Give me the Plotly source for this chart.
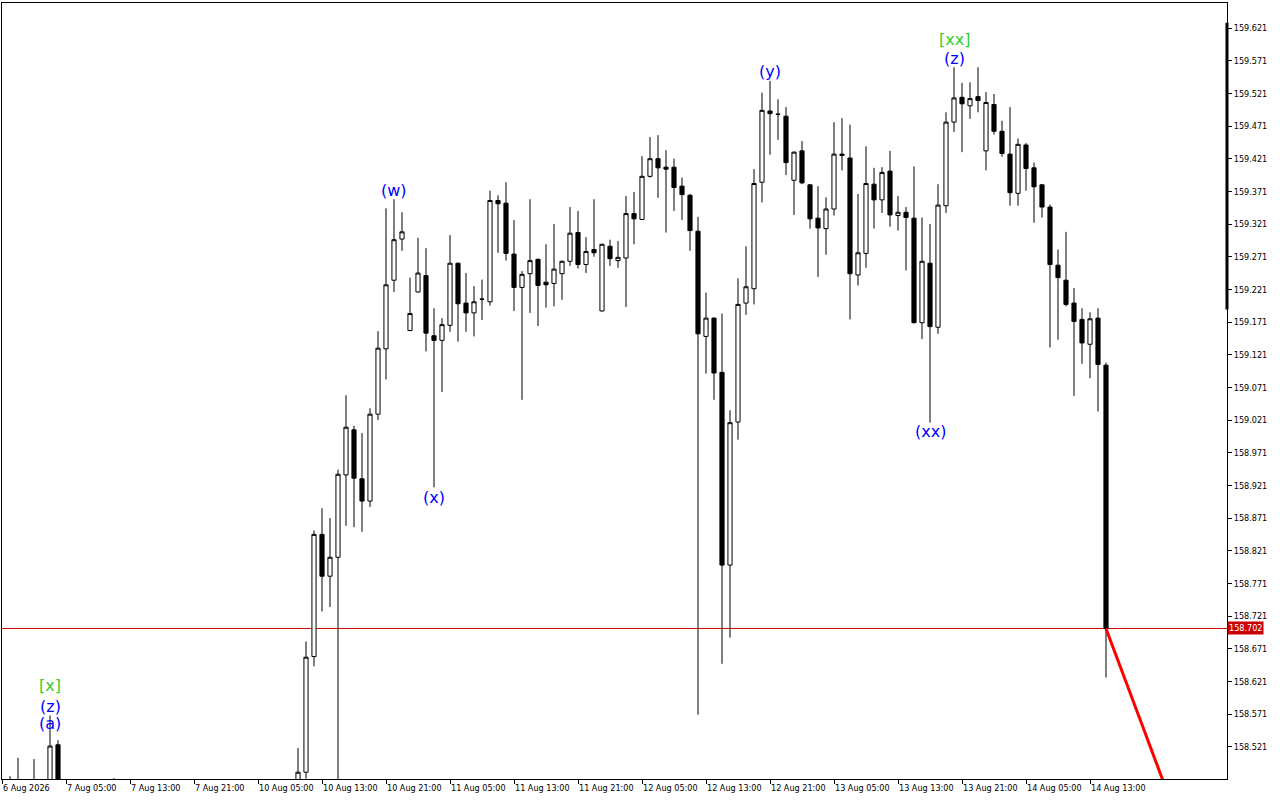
import plotly.graph_objects as go

# ---- data (H1 bars, index = bar number, 6 Aug 21:00 = 0) ----
bar_index = list(range(139))

opens = [
    158.455, 158.460, 158.465, 158.458, 158.450, 158.462, 158.455, 158.524, 158.445, 158.440,
    158.432, 158.438, 158.430, 158.436, 158.442, 158.450, 158.444, 158.438, 158.430, 158.425,
    158.432, 158.428, 158.420, 158.426, 158.430, 158.424, 158.418, 158.422, 158.428, 158.432,
    158.426, 158.420, 158.415, 158.422, 158.430, 158.438, 158.445, 158.458, 158.482, 158.659,
    158.846, 158.782, 158.811, 158.937, 159.006, 158.931, 158.897, 159.030, 159.130, 159.235,
    159.298, 159.158, 159.217, 159.242, 159.150, 159.143, 159.166, 159.261, 159.200, 159.185,
    159.206, 159.202, 159.357, 159.353, 159.275, 159.224, 159.245, 159.267, 159.232, 159.230,
    159.245, 159.264, 159.308, 159.259, 159.282, 159.188, 159.287, 159.265, 159.269, 159.337,
    159.328, 159.394, 159.421, 159.408, 159.408, 159.379, 159.365, 159.310, 159.149, 159.177,
    159.094, 158.799, 159.018, 159.200, 159.222, 159.385, 159.494, 159.489, 159.486, 159.388,
    159.433, 159.381, 159.330, 159.314, 159.344, 159.428, 159.422, 159.243, 159.276, 159.382,
    159.358, 159.402, 159.334, 159.339, 159.330, 159.170, 159.261, 159.163, 159.349, 159.477,
    159.515, 159.502, 159.516, 159.433, 159.504, 159.463, 159.428, 159.368, 159.442, 159.407,
    159.381, 159.347, 159.258, 159.235, 159.200, 159.175, 159.137, 159.177, 159.105,
]
highs = [
    158.466, 158.476, 158.504, 158.468, 158.502, 158.470, 158.569, 158.531, 158.458, 158.452,
    158.446, 158.450, 158.444, 158.448, 158.473, 158.460, 158.455, 158.448, 158.440, 158.438,
    158.442, 158.438, 158.432, 158.436, 158.440, 158.434, 158.430, 158.434, 158.438, 158.442,
    158.436, 158.430, 158.428, 158.434, 158.442, 158.450, 158.458, 158.519, 158.682, 158.852,
    158.886, 158.871, 158.945, 159.059, 159.012, 159.001, 159.039, 159.157, 159.345, 159.359,
    159.339, 159.239, 159.300, 159.284, 159.192, 159.177, 159.304, 159.262, 159.246, 159.226,
    159.236, 159.372, 159.365, 159.385, 159.327, 159.249, 159.359, 159.268, 159.290, 159.321,
    159.265, 159.347, 159.341, 159.301, 159.359, 159.291, 159.297, 159.295, 159.364, 159.370,
    159.425, 159.454, 159.457, 159.434, 159.421, 159.392, 159.367, 159.332, 159.216, 159.178,
    159.184, 159.036, 159.238, 159.287, 159.405, 159.522, 159.540, 159.512, 159.500, 159.432,
    159.448, 159.382, 159.379, 159.362, 159.477, 159.483, 159.473, 159.367, 159.440, 159.407,
    159.408, 159.433, 159.364, 159.347, 159.409, 159.331, 159.321, 159.382, 159.492, 159.561,
    159.537, 159.538, 159.561, 159.523, 159.520, 159.479, 159.500, 159.452, 159.445, 159.415,
    159.382, 159.351, 159.282, 159.309, 159.223, 159.192, 159.186, 159.192, 159.109,
]
lows = [
    158.440, 158.448, 158.452, 158.440, 158.445, 158.448, 158.450, 158.430, 158.432, 158.426,
    158.420, 158.425, 158.418, 158.424, 158.430, 158.436, 158.430, 158.422, 158.415, 158.412,
    158.418, 158.412, 158.405, 158.410, 158.414, 158.408, 158.402, 158.406, 158.412, 158.418,
    158.410, 158.404, 158.400, 158.406, 158.414, 158.422, 158.430, 158.452, 158.472, 158.644,
    158.728, 158.735, 158.460, 158.859, 158.857, 158.850, 158.888, 159.021, 159.083, 159.217,
    159.280, 159.157, 159.216, 159.126, 158.918, 159.064, 159.156, 159.141, 159.156, 159.149,
    159.174, 159.196, 159.277, 159.265, 159.188, 159.052, 159.185, 159.165, 159.193, 159.195,
    159.205, 159.257, 159.253, 159.246, 159.271, 159.187, 159.257, 159.254, 159.194, 159.290,
    159.327, 159.392, 159.361, 159.308, 159.341, 159.327, 159.280, 158.570, 159.092, 159.052,
    158.648, 158.688, 158.991, 159.182, 159.198, 159.354, 159.427, 159.450, 159.396, 159.335,
    159.382, 159.314, 159.240, 159.274, 159.334, 159.403, 159.175, 159.227, 159.254, 159.314,
    159.338, 159.317, 159.311, 159.250, 159.169, 159.145, 159.017, 159.153, 159.338, 159.462,
    159.431, 159.482, 159.492, 159.403, 159.458, 159.424, 159.349, 159.349, 159.372, 159.323,
    159.331, 159.132, 159.144, 159.195, 159.058, 159.107, 159.085, 159.034, 158.627,
]
closes = [
    158.460, 158.465, 158.458, 158.450, 158.462, 158.455, 158.522, 158.445, 158.440, 158.432,
    158.438, 158.430, 158.436, 158.442, 158.450, 158.444, 158.438, 158.430, 158.425, 158.432,
    158.428, 158.420, 158.426, 158.430, 158.424, 158.418, 158.422, 158.428, 158.432, 158.426,
    158.420, 158.415, 158.422, 158.430, 158.438, 158.445, 158.458, 158.482, 158.658, 158.846,
    158.782, 158.811, 158.938, 159.010, 158.932, 158.897, 159.030, 159.131, 159.228, 159.297,
    159.309, 159.184, 159.246, 159.154, 159.143, 159.167, 159.261, 159.199, 159.185, 159.202,
    159.206, 159.357, 159.352, 159.276, 159.224, 159.244, 159.265, 159.227, 159.228, 159.252,
    159.264, 159.307, 159.259, 159.279, 159.277, 159.290, 159.268, 159.270, 159.337, 159.329,
    159.394, 159.421, 159.407, 159.405, 159.377, 159.366, 159.311, 159.153, 159.177, 159.093,
    158.799, 159.017, 159.198, 159.225, 159.383, 159.495, 159.490, 159.489, 159.415, 159.431,
    159.384, 159.329, 159.315, 159.344, 159.428, 159.426, 159.245, 159.277, 159.383, 159.358,
    159.400, 159.335, 159.339, 159.331, 159.170, 159.264, 159.164, 159.350, 159.477, 159.514,
    159.505, 159.513, 159.510, 159.507, 159.463, 159.429, 159.369, 159.443, 159.406, 159.378,
    159.347, 159.259, 159.239, 159.198, 159.172, 159.139, 159.176, 159.106, 158.702,
]

tick_index = [0, 8, 16, 24, 32, 40, 48, 56, 64, 72, 80, 88, 96, 104, 112, 120, 128, 136]
tick_text = ["6 Aug 2026", "7 Aug 05:00", "7 Aug 13:00", "7 Aug 21:00", "10 Aug 05:00",
             "10 Aug 13:00", "10 Aug 21:00", "11 Aug 05:00", "11 Aug 13:00", "11 Aug 21:00",
             "12 Aug 05:00", "12 Aug 13:00", "12 Aug 21:00", "13 Aug 05:00", "13 Aug 13:00",
             "13 Aug 21:00", "14 Aug 05:00", "14 Aug 13:00"]

price_ticks = [159.621, 159.571, 159.521, 159.471, 159.421, 159.371, 159.321, 159.271,
               159.221, 159.171, 159.121, 159.071, 159.021, 158.971, 158.921, 158.871,
               158.821, 158.771, 158.721, 158.671, 158.621, 158.571, 158.521]

current_price = 158.702

forecast_x = [138, 148]
forecast_y = [158.702, 158.375]

wave_labels = ["[x]", "(z)", "(a)", "(w)", "(x)", "(y)", "[xx]", "(z)", "(xx)"]
wave_x = [6, 6, 6, 49, 54, 96, 119, 119, 116]
wave_y = [158.614, 158.583, 158.556, 159.373, 158.903, 159.554, 159.604, 159.575, 159.003]
wave_colors = ["#32CD32", "#0000FF", "#0000FF", "#0000FF", "#0000FF", "#0000FF",
               "#32CD32", "#0000FF", "#0000FF"]

range_bar_top = 159.629
range_bar_bottom = 159.190

y_min, y_max = 158.4716, 159.6593
x_min, x_max = 0, 153.125

AXIS_FONT = dict(family="DejaVu Sans Condensed, DejaVu Sans", size=9, color="black")

# ---- figure ----
fig = go.Figure()

fig.add_trace(go.Candlestick(
    x=bar_index, open=opens, high=highs, low=lows, close=closes,
    increasing=dict(line=dict(color="black", width=1), fillcolor="white"),
    decreasing=dict(line=dict(color="black", width=1), fillcolor="black"),
    whiskerwidth=0, hoverinfo="skip", showlegend=False,
))

fig.add_trace(go.Scatter(
    x=forecast_x, y=forecast_y, mode="lines",
    line=dict(color="#FF0000", width=3), hoverinfo="skip", showlegend=False,
))

fig.add_shape(type="line", xref="paper", x0=0, x1=1, yref="y",
              y0=current_price, y1=current_price,
              line=dict(color="#D40000", width=1), layer="below")

fig.add_shape(type="line", xref="paper", x0=1, x1=1, yref="y",
              y0=range_bar_bottom, y1=range_bar_top,
              line=dict(color="black", width=3))

for t, xx, yy, c in zip(wave_labels, wave_x, wave_y, wave_colors):
    fig.add_annotation(x=xx, y=yy, text=t, showarrow=False,
                       font=dict(family="DejaVu Sans", size=16, color=c),
                       xanchor="center", yanchor="middle")

fig.add_annotation(xref="paper", x=1, y=current_price, yref="y",
                   text=f"{current_price:.3f}", showarrow=False,
                   xanchor="left", yanchor="middle", xshift=0,
                   bgcolor="#C80000", borderpad=1,
                   font=dict(AXIS_FONT, color="white"))

fig.update_layout(
    width=1280, height=800,
    margin=dict(l=2, r=53, t=3, b=21),
    paper_bgcolor="white", plot_bgcolor="white",
    boxgap=0.28, boxgroupgap=0.28,
    font=AXIS_FONT,
    hovermode=False,
    xaxis=dict(
        range=[x_min, x_max], rangeslider=dict(visible=False),
        tickmode="array", tickvals=tick_index, ticktext=tick_text,
        ticks="outside", ticklen=4, tickcolor="black",
        ticklabelposition="outside right",
        showgrid=False, zeroline=False,
        showline=True, linecolor="black", linewidth=1, mirror=True,
        tickfont=AXIS_FONT,
    ),
    yaxis=dict(
        range=[y_min, y_max], side="right",
        tickmode="array", tickvals=price_ticks,
        ticktext=[f"{v:.3f}" for v in price_ticks],
        ticks="outside", ticklen=4, tickcolor="black",
        showgrid=False, zeroline=False,
        showline=True, linecolor="black", linewidth=1, mirror=True,
        tickfont=AXIS_FONT,
    ),
)

fig.write_html("out.html", config={"displayModeBar": False},
               post_script="document.body.style.margin='0';")
